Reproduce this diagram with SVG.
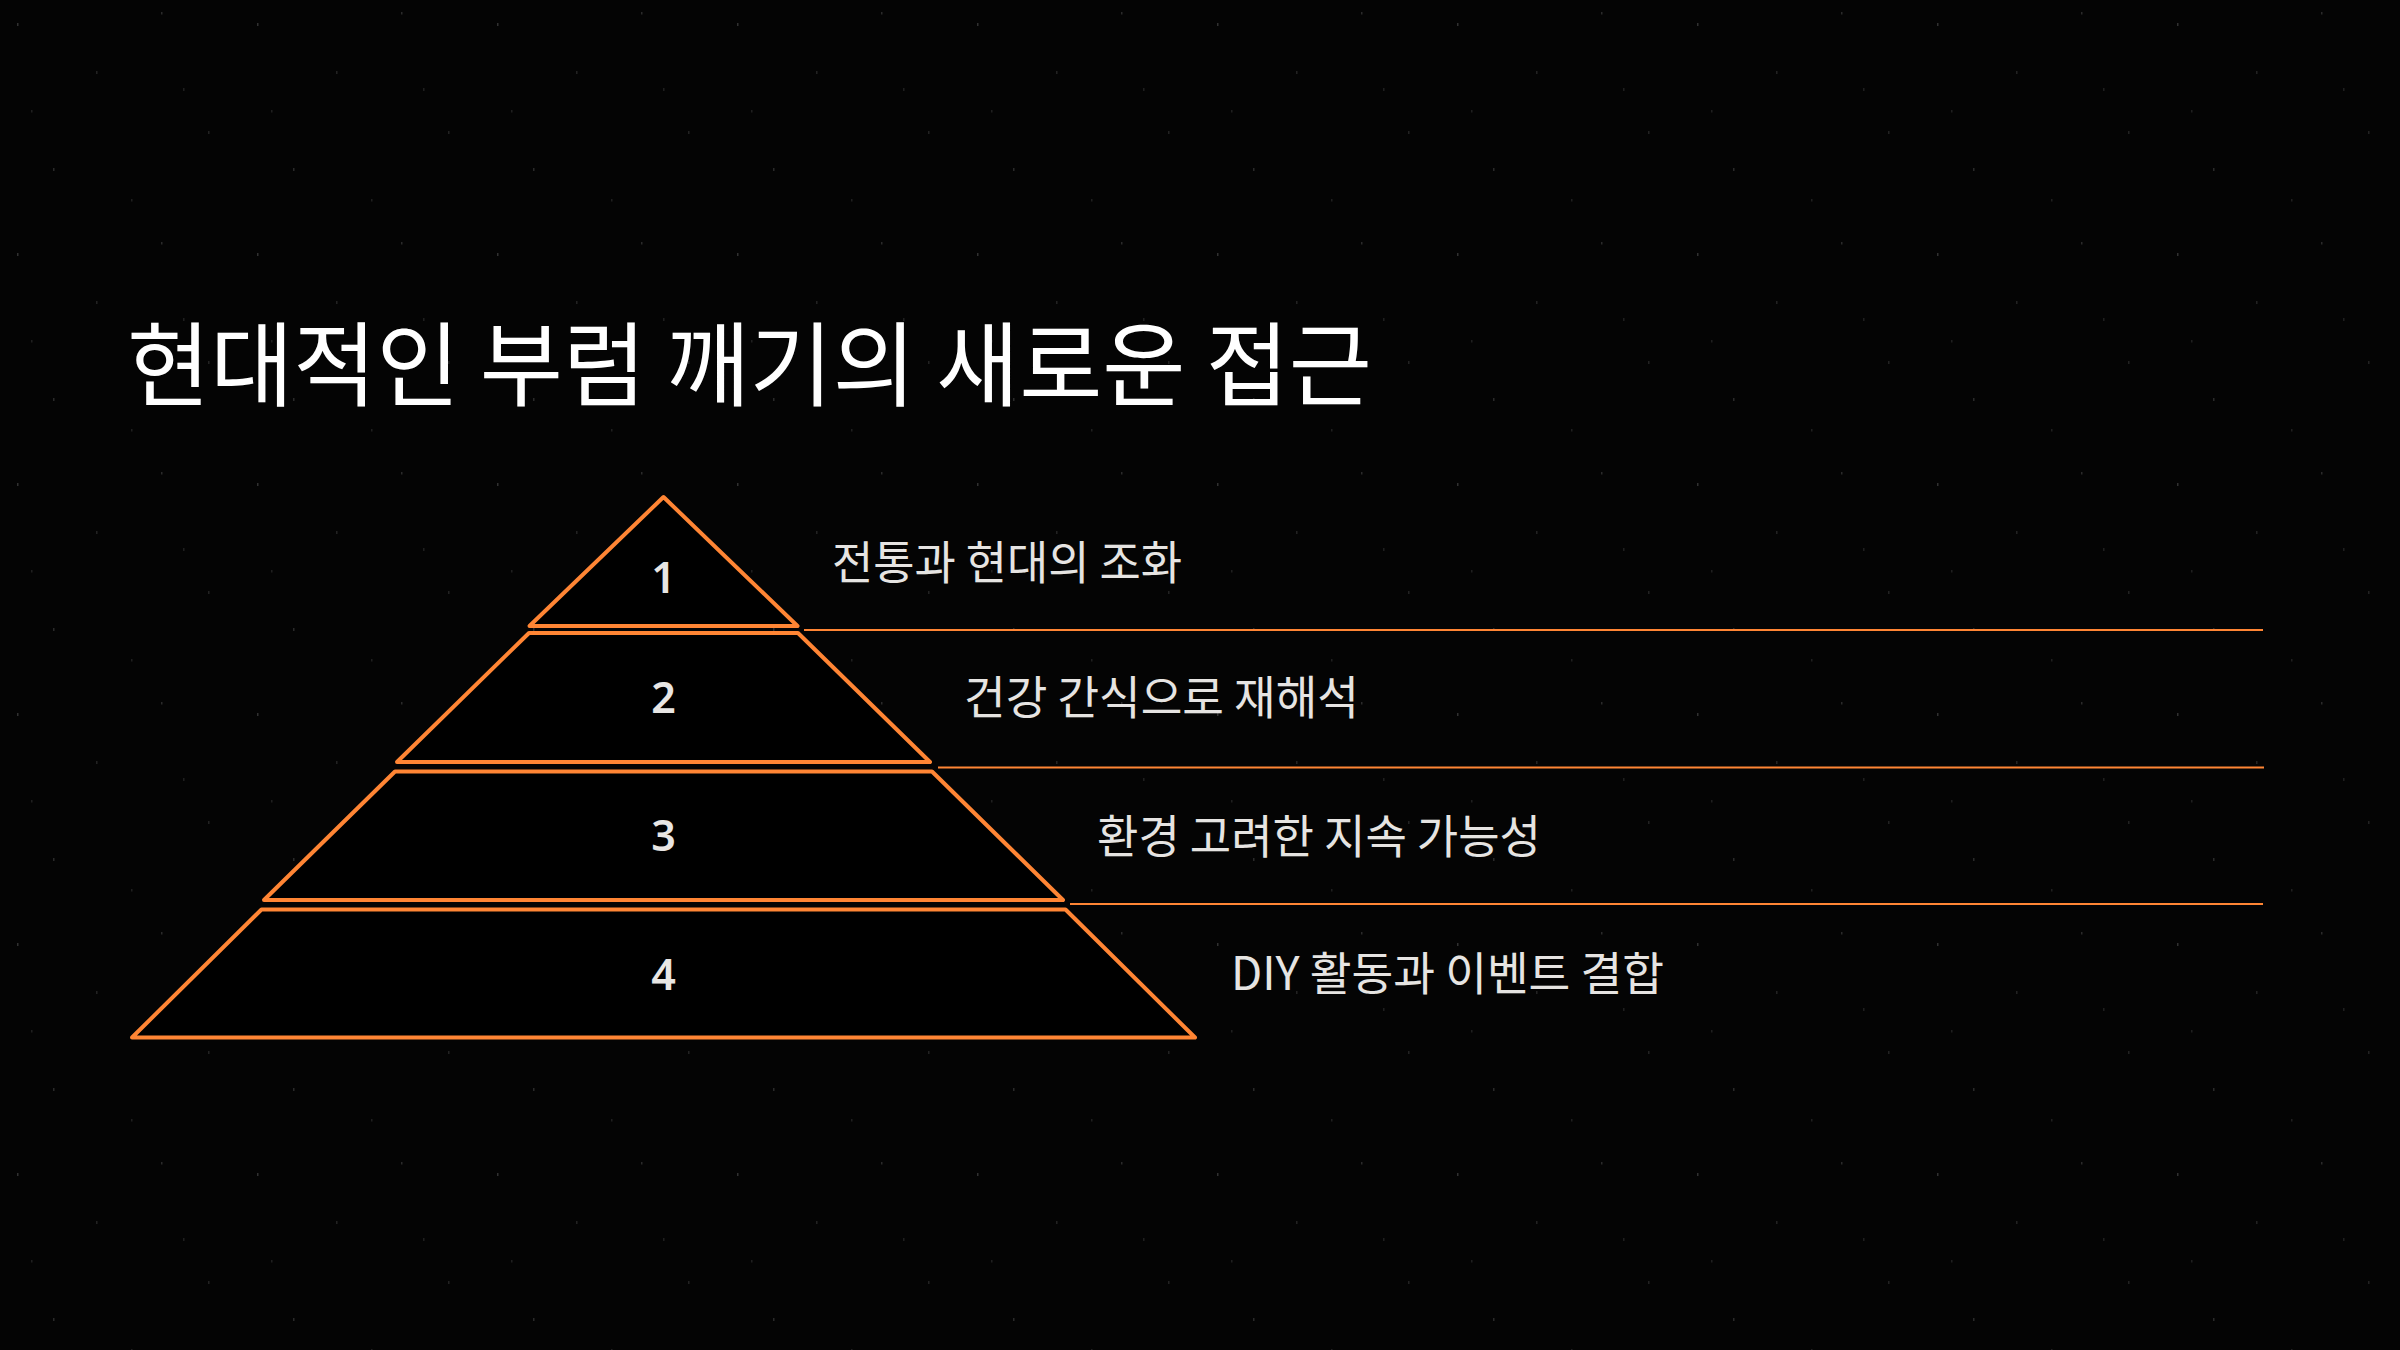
<svg xmlns="http://www.w3.org/2000/svg" width="2400" height="1350" viewBox="0 0 2400 1350">
  <defs>
    <style>
      .bg { fill: #040404; }
      .title { font-family: "Noto Sans CJK KR", "Noto Sans", sans-serif; font-size: 92px; fill: #ffffff; }
      .label { font-family: "Noto Sans CJK KR", "Noto Sans", sans-serif; font-size: 46px; fill: #e6e4e2; }
      .num { font-family: "Noto Sans", "DejaVu Sans", sans-serif; font-size: 43px; font-weight: 600; fill: #e8e6e4; text-anchor: middle; }
      .tier { fill: #000000; stroke: #FF8534; stroke-width: 4; stroke-linejoin: round; }
      .rule { stroke: #FF8534; stroke-width: 2; }
      .speck { fill: #9a9a9a; }
    </style>
    <pattern id="stars" x="0" y="0" width="240" height="230" patternUnits="userSpaceOnUse">
      <rect class="speck" x="17" y="23" width="1.5" height="3" opacity="0.3"/>
      <rect class="speck" x="96" y="71" width="1.5" height="3" opacity="0.2"/>
      <rect class="speck" x="161" y="12" width="1.5" height="2.5" opacity="0.25"/>
      <rect class="speck" x="208" y="131" width="1.5" height="3" opacity="0.2"/>
      <rect class="speck" x="53" y="168" width="1.5" height="3" opacity="0.25"/>
      <rect class="speck" x="131" y="199" width="1.5" height="2.5" opacity="0.18"/>
      <rect class="speck" x="183" y="88" width="1.5" height="3" opacity="0.18"/>
      <rect class="speck" x="31" y="110" width="1.5" height="2.5" opacity="0.18"/>
    </pattern>
  </defs>

  <rect class="bg" x="0" y="0" width="2400" height="1350"/>
  <rect x="0" y="0" width="2400" height="1350" fill="url(#stars)"/>

  <g id="title">
    <text class="title" x="127" y="399" textLength="1245" lengthAdjust="spacingAndGlyphs">현대적인 부럼 깨기의 새로운 접근</text>
  </g>

  <g id="connectors">
    <line class="rule" x1="804" y1="630" x2="2263" y2="630"/>
    <line class="rule" x1="938" y1="767.5" x2="2264" y2="767.5"/>
    <line class="rule" x1="1070" y1="904" x2="2263" y2="904"/>
  </g>

  <g id="tier1">
    <path class="tier" d="M663.5,497 L797.5,626 L529.5,626 Z"/>
    <text class="num" x="663.5" y="593">1</text>
    <text class="label" x="832" y="579" textLength="350" lengthAdjust="spacingAndGlyphs">전통과 현대의 조화</text>
  </g>

  <g id="tier2">
    <path class="tier" d="M529,633 L798,633 L930,762 L397,762 Z"/>
    <text class="num" x="663.5" y="713">2</text>
    <text class="label" x="964" y="714" textLength="395" lengthAdjust="spacingAndGlyphs">건강 간식으로 재해석</text>
  </g>

  <g id="tier3">
    <path class="tier" d="M395,771.5 L932,771.5 L1063,900 L264,900 Z"/>
    <text class="num" x="663.5" y="851">3</text>
    <text class="label" x="1097" y="853" textLength="444" lengthAdjust="spacingAndGlyphs">환경 고려한 지속 가능성</text>
  </g>

  <g id="tier4">
    <path class="tier" d="M261.5,909.5 L1065.5,909.5 L1195,1037.5 L132,1037.5 Z"/>
    <text class="num" x="663.5" y="990">4</text>
    <text class="label" x="1231" y="990" textLength="433" lengthAdjust="spacingAndGlyphs">DIY 활동과 이벤트 결합</text>
  </g>
</svg>
